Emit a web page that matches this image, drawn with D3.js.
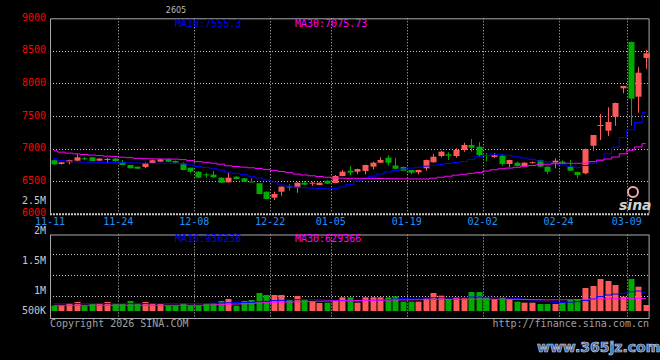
<!DOCTYPE html>
<html lang="en">
	<head>
		<meta charset="utf-8">
		<title>Daily K line</title>
		<script type="text/javascript" src="https://cdn.jsdelivr.net/npm/d3@7/dist/d3.min.js"></script>
		<style type="text/css">
			html, body {
				margin: 0;
				padding: 0;
				background-color: black;
			}
			svg text {
				font-family: "DejaVu Sans Mono", monospace;
				font-size: 10px;
			}
		</style>
	</head>
	<body>
		<script type="text/javascript">

			//Trading days (categories)
			var dates = [
				"11-11","11-12","11-13","11-14","11-17","11-18","11-19","11-20","11-21","11-24","11-25","11-26","11-27","11-28",
				"12-01","12-02","12-03","12-04","12-05","12-08","12-09","12-10","12-11","12-12","12-15","12-16","12-17","12-18","12-19",
				"12-22","12-23","12-24","12-25","12-26","12-29","12-30","12-31",
				"01-05","01-06","01-07","01-08","01-09","01-12","01-13","01-14","01-15","01-16","01-19","01-20","01-21","01-22","01-23",
				"01-26","01-27","01-28","01-29","01-30",
				"02-02","02-03","02-04","02-05","02-06","02-09","02-10","02-11","02-12","02-13","02-24","02-25","02-26","02-27",
				"03-02","03-03","03-04","03-05","03-06","03-09","03-10","03-11"
			];

			//Prices
			var openP = [6820,6763,6789,6814,6851,6866,6814,6830,6846,6794,6748,6722,6717,6779,6799,6835,6810,6774,6706,6645,
				6605,6600,6553,6481,6568,6543,6495,6467,6338,6246,6338,6418,6400,6476,6461,6441,6507,6471,6579,6660,
				6645,6656,6722,6783,6860,6740,6717,6671,6635,6697,6789,6886,6912,6886,6978,7055,7030,6900,6870,6891,
				6763,6783,6732,6780,6824,6722,6783,6800,6722,6640,6620,7044,7351,7274,7489,7925,8636,7796,8391];
			var highP = [6835,6795,6830,6912,6871,6870,6850,6856,6850,6824,6752,6725,6785,6830,6838,6840,6815,6790,6710,6650,
				6630,6656,6558,6630,6575,6550,6545,6470,6340,6338,6420,6451,6480,6502,6490,6480,6512,6594,6671,6732,
				6690,6752,6798,6866,6901,6860,6722,6675,6675,6830,6916,6967,6943,7004,7090,7147,7100,6930,6930,6912,
				6830,6800,6790,6800,6830,6725,6851,6820,6824,6645,7000,7210,7531,7634,7705,7961,8640,8248,8513];
			var lowP = [6751,6755,6758,6810,6820,6805,6810,6774,6800,6745,6695,6688,6697,6775,6795,6795,6780,6665,6620,6550,
				6553,6555,6470,6478,6525,6485,6485,6300,6222,6210,6277,6353,6322,6441,6430,6438,6455,6468,6575,6594,
				6610,6605,6681,6780,6737,6686,6655,6605,6605,6660,6785,6866,6824,6860,6952,6952,6880,6800,6860,6737,
				6712,6725,6728,6770,6715,6610,6697,6770,6655,6543,6605,6967,7131,7193,7351,7849,7351,7551,8226];
			var closeP = [6758,6789,6824,6866,6846,6809,6846,6840,6809,6748,6697,6691,6779,6820,6835,6798,6785,6671,6645,6553,
				6600,6560,6476,6553,6533,6491,6490,6302,6226,6302,6415,6412,6476,6445,6476,6476,6461,6579,6645,6630,
				6686,6748,6783,6824,6783,6690,6660,6630,6671,6824,6875,6952,6891,6978,7055,7013,6900,6885,6895,6763,
				6824,6732,6783,6790,6722,6645,6814,6780,6660,6594,6993,7208,7362,7408,7700,7961,7766,8165,8463];

			//Moving averages of price
			var ma10 = [6845,6815,6805,6798,6790,6789,6788,6786,6784,6782,6780,6778,6775,6774,6774,6775,6773,6765,6750,6725,
				6710,6690,6670,6640,6620,6600,6575,6550,6520,6490,6440,6425,6408,6398,6392,6388,6382,6385,6410,6450,
				6500,6540,6575,6610,6640,6665,6685,6700,6712,6730,6742,6755,6770,6785,6800,6835,6875,6895,6912,6905,
				6892,6875,6855,6835,6810,6798,6775,6750,6730,6712,6740,6775,6830,6920,7020,7170,7290,7400,7555.3];
			var ma30 = [6965,6945,6930,6918,6908,6900,6892,6884,6876,6868,6860,6850,6845,6842,6840,6840,6838,6830,6815,6800,
				6790,6776,6760,6735,6725,6715,6705,6695,6680,6665,6648,6630,6608,6595,6582,6570,6560,6550,6545,6543,
				6543,6543,6542,6540,6538,6537,6535,6533,6533,6533,6545,6560,6575,6592,6605,6620,6635,6655,6675,6690,
				6700,6712,6728,6740,6752,6760,6768,6774,6774,6774,6776,6800,6820,6840,6870,6920,6975,7025,7075.73];

			//Volume, in thousands
			var volume = [267,267,400,450,267,350,400,450,350,350,500,400,450,400,350,267,267,400,267,267,
				400,400,500,600,267,500,550,900,800,800,800,550,750,600,500,400,417,550,683,683,
				417,683,683,683,683,733,467,467,467,633,900,767,600,683,633,950,950,683,600,683,
				600,467,417,417,350,350,350,417,550,600,1150,1250,1600,1500,1300,717,1600,1217,300];
			var volMa10 = [370,370,370,370,370,370,370,370,370,370,370,370,370,370,370,370,370,370,370,370,
				370,390,400,410,420,420,430,470,480,520,530,560,567,570,570,565,560,520,520,520,
				525,530,535,540,560,600,620,640,650,650,660,660,650,660,680,700,700,690,680,670,
				650,620,590,550,500,470,430,420,440,470,520,600,720,800,850,880,960,1000,936.238];
			var volMa30 = [285,285,285,285,285,285,285,285,285,285,285,285,285,285,285,285,285,285,285,285,
				285,300,320,340,350,360,370,400,420,430,440,450,460,470,480,490,500,505,510,515,
				520,525,530,540,545,550,555,560,565,570,575,580,585,585,585,585,590,590,590,590,
				585,580,575,570,565,560,560,560,565,570,580,590,600,605,610,615,620,625,629.366];

			//Axis labels
			var priceTicks = [6000, 6500, 7000, 7500, 8000, 8500, 9000];
			var dateTicks = ["11-11","11-24","12-08","12-22","01-05","01-19","02-02","02-24","03-09"];
			var volTicks = [2000, 1500, 1000, 500];
			var volTickText = ["2M", "1.5M", "1M", "500K"];
			var volMaxText = "2.5M";
			var titleText = "2605";

			//Width and height
			var w = 660;
			var h = 360;
			var left = 50, right = 649.6;
			var pTop = 18.3, pBottom = 213.7;
			var vTop = 234.5, vBottom = 318;

			var red = "rgb(255,90,90)";
			var green = "rgb(0,170,0)";
			var gridColor = "rgb(200,200,200)";
			var borderColor = "rgb(170,170,170)";

			//Scales
			var x = d3.scaleBand()
						.domain(dates)
						.range([left, right])
						.padding(0);
			var bw = x.bandwidth();
			var cx = function(i) { return x(dates[i]) + bw / 2; };

			var y = d3.scaleLinear()
						.domain([6000, 9000])
						.range([pBottom, pTop]);

			var yv = d3.scaleLinear()
						.domain([0, 1000])
						.range([311, 291]);

			//Where Sina puts the volume labels
			var yvLabel = d3.scaleLinear()
						.domain([2000, 1000])
						.range([234, 294]);

			//Create SVG element
			var svg = d3.select("body")
						.append("svg")
						.attr("width", w)
						.attr("height", h);

			svg.append("rect")
				.attr("width", w)
				.attr("height", h)
				.attr("fill", "black");

			//Horizontal grid, price panel
			svg.selectAll("line.pgrid")
			   .data(priceTicks.slice(1, -1))
			   .enter()
			   .append("line")
			   .attr("class", "pgrid")
			   .attr("x1", left)
			   .attr("x2", right)
			   .attr("y1", function(d) { return Math.round(y(d)) + 0.5; })
			   .attr("y2", function(d) { return Math.round(y(d)) + 0.5; })
			   .attr("stroke", gridColor)
			   .attr("stroke-dasharray", "1,2");

			//Horizontal grid, volume panel (4 rows)
			var vRows = [1, 2, 3];
			svg.selectAll("line.vgrid")
			   .data(vRows)
			   .enter()
			   .append("line")
			   .attr("class", "vgrid")
			   .attr("x1", left)
			   .attr("x2", right)
			   .attr("y1", function(d) { return Math.round(vTop + (vBottom - vTop) * d / 4) - 0.5; })
			   .attr("y2", function(d) { return Math.round(vTop + (vBottom - vTop) * d / 4) - 0.5; })
			   .attr("stroke", gridColor)
			   .attr("stroke-dasharray", "1,2");

			//Vertical grid at the labelled dates
			var vlines = dateTicks.slice(1);
			[[pTop, pBottom], [vTop, vBottom]].forEach(function(r) {
				svg.selectAll(null)
				   .data(vlines)
				   .enter()
				   .append("line")
				   .attr("x1", function(d) { return Math.round(x(d)) + 0.5; })
				   .attr("x2", function(d) { return Math.round(x(d)) + 0.5; })
				   .attr("y1", r[0])
				   .attr("y2", r[1])
				   .attr("stroke", gridColor)
				   .attr("stroke-dasharray", "1,2");
			});

			//Borders
			svg.append("path")
				.attr("d", "M" + (left + 0.5) + "," + pBottom + "V" + (pTop + 0.5) + "H" + (right - 0.5) + "V" + pBottom)
				.attr("fill", "none")
				.attr("stroke", borderColor);
			svg.append("line")
				.attr("x1", left)
				.attr("x2", right)
				.attr("y1", pBottom + 0.5)
				.attr("y2", pBottom + 0.5)
				.attr("stroke", gridColor)
				.attr("stroke-width", 2)
				.attr("stroke-dasharray", "2,1");
			svg.append("rect")
				.attr("x", left + 0.5)
				.attr("y", vTop + 0.5)
				.attr("width", right - left - 1)
				.attr("height", vBottom - vTop)
				.attr("fill", "none")
				.attr("stroke", borderColor);

			var isUp = function(i) { return closeP[i] >= openP[i]; };
			var idx = d3.range(dates.length);

			//Candle wicks
			svg.selectAll("line.wick")
			   .data(idx)
			   .enter()
			   .append("line")
			   .attr("class", "wick")
			   .attr("x1", function(i) { return Math.round(cx(i)) + 0.5; })
			   .attr("x2", function(i) { return Math.round(cx(i)) + 0.5; })
			   .attr("y1", function(i) { return y(highP[i]); })
			   .attr("y2", function(i) { return y(lowP[i]); })
			   .attr("stroke", function(i) { return isUp(i) ? red : green; });

			//Candle bodies
			svg.selectAll("rect.body")
			   .data(idx)
			   .enter()
			   .append("rect")
			   .attr("class", "body")
			   .attr("x", function(i) { return Math.round(cx(i)) - 2.5; })
			   .attr("y", function(i) { return y(Math.max(openP[i], closeP[i])); })
			   .attr("width", 6)
			   .attr("height", function(i) { return Math.max(1, Math.abs(y(openP[i]) - y(closeP[i]))); })
			   .attr("fill", function(i) { return isUp(i) ? red : green; });

			//Volume bars
			svg.selectAll("rect.vol")
			   .data(idx)
			   .enter()
			   .append("rect")
			   .attr("class", "vol")
			   .attr("x", function(i) { return Math.round(cx(i)) - 2.5; })
			   .attr("y", function(i) { return yv(volume[i]); })
			   .attr("width", 6)
			   .attr("height", function(i) { return yv(0) - yv(volume[i]); })
			   .attr("fill", function(i) { return isUp(i) ? red : green; });

			//Moving average lines (stepped, as Sina draws them)
			var priceLine = d3.line()
							.x(function(d, i) { return cx(i); })
							.y(function(d) { return y(d); })
							.curve(d3.curveStep);
			var volLine = d3.line()
							.x(function(d, i) { return cx(i); })
							.y(function(d) { return yv(d); })
							.curve(d3.curveStep);

			[[ma10, priceLine, "blue"], [ma30, priceLine, "magenta"],
			 [volMa10, volLine, "blue"], [volMa30, volLine, "magenta"]].forEach(function(s) {
				svg.append("path")
					.datum(s[0])
					.attr("d", s[1])
					.attr("fill", "none")
					.attr("stroke", s[2])
					.attr("stroke-width", 1);
			});

			//Price labels
			svg.selectAll("text.ptick")
			   .data(priceTicks)
			   .enter()
			   .append("text")
			   .attr("class", "ptick")
			   .attr("x", 46)
			   .attr("y", function(d) { return y(d) + 2.5; })
			   .attr("text-anchor", "end")
			   .attr("fill", "red")
			   .text(function(d) { return d; });

			svg.append("text")
				.attr("x", 46)
				.attr("y", pBottom - 10)
				.attr("text-anchor", "end")
				.attr("fill", "rgb(200,200,200)")
				.text(volMaxText);

			//Date labels
			svg.selectAll("text.dtick")
			   .data(dateTicks)
			   .enter()
			   .append("text")
			   .attr("class", "dtick")
			   .attr("x", function(d) { return x(d); })
			   .attr("y", 224.5)
			   .attr("text-anchor", "middle")
			   .attr("fill", "rgb(30,144,255)")
			   .text(function(d) { return d; });

			//Volume labels
			svg.selectAll("text.vtick")
			   .data(volTicks)
			   .enter()
			   .append("text")
			   .attr("class", "vtick")
			   .attr("x", 46)
			   .attr("y", function(d) { return Math.min(yvLabel(d), 314); })
			   .attr("text-anchor", "end")
			   .attr("fill", "rgb(200,200,200)")
			   .text(function(d, i) { return volTickText[i]; });

			//MA legends
			var last = dates.length - 1;
			svg.append("text").attr("x", 175).attr("y", 27).attr("fill", "blue")
				.text("MA10:" + ma10[last]);
			svg.append("text").attr("x", 295).attr("y", 27).attr("fill", "magenta")
				.text("MA30:" + ma30[last]);
			svg.append("text").attr("x", 175).attr("y", 242).attr("fill", "blue")
				.text("MA10:" + Math.round(volMa10[last] * 1000));
			svg.append("text").attr("x", 295).attr("y", 242).attr("fill", "magenta")
				.text("MA30:" + Math.round(volMa30[last] * 1000));

			//Title
			svg.append("text")
				.attr("x", 176)
				.attr("y", 13)
				.attr("text-anchor", "middle")
				.attr("fill", "rgb(190,190,190)")
				.style("font-family", "DejaVu Sans")
				.style("font-size", "8px")
				.text(titleText);

			//Footer
			svg.append("text")
				.attr("x", 50)
				.attr("y", 327)
				.attr("fill", "rgb(160,160,160)")
				.text("Copyright 2026 SINA.COM");
			svg.append("text")
				.attr("x", 649)
				.attr("y", 327)
				.attr("text-anchor", "end")
				.attr("fill", "rgb(160,160,160)")
				.text("http://finance.sina.com.cn");

			//sina logo watermark
			svg.append("circle")
				.attr("cx", 633)
				.attr("cy", 192)
				.attr("r", 5)
				.attr("fill", "none")
				.attr("stroke", "rgb(240,170,170)")
				.attr("stroke-width", 2);
			svg.append("text")
				.attr("x", 619)
				.attr("y", 210)
				.attr("fill", "rgb(210,210,210)")
				.style("font-family", "DejaVu Sans")
				.style("font-size", "14px")
				.style("font-weight", "bold")
				.style("font-style", "italic")
				.text("sina");

			//Site watermark
			svg.append("text")
				.attr("x", 537)
				.attr("y", 352)
				.attr("fill", "rgb(60,100,160)")
				.attr("stroke", "rgb(200,210,230)")
				.attr("stroke-width", 0.7)
				.style("font-family", "DejaVu Sans")
				.style("font-size", "14px")
				.style("font-weight", "bold")
				.text("www.365jz.com");

		</script>
	</body>
</html>
